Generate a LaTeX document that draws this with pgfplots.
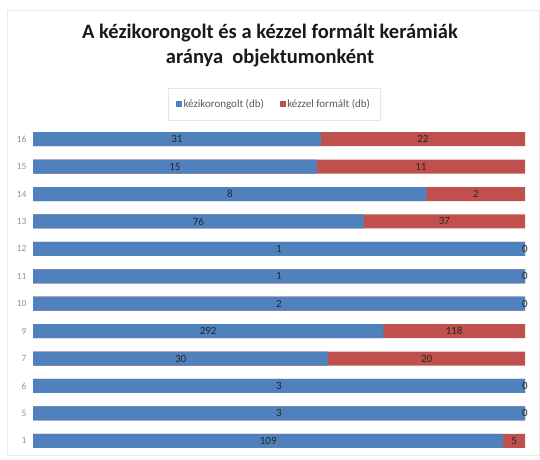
\documentclass[border=0pt]{standalone}
\usepackage{pgfplots}
\usepackage{pgfplotstable}
\pgfplotsset{compat=1.18}
\usepackage{fontspec}
\setmainfont{Carlito}
\definecolor{cblue}{HTML}{4F81BD}
\definecolor{cred}{HTML}{C0504D}
\definecolor{tickgray}{HTML}{8A94A6}
\definecolor{leggray}{HTML}{595959}
\pgfplotstableread{
pos obj blue red
0 1 109 5
1 5 3 0
2 6 3 0
3 7 30 20
4 9 292 118
5 10 2 0
6 11 1 0
7 12 1 0
8 13 76 37
9 14 8 2
10 15 15 11
11 16 31 22
}\data
\begin{document}
\begin{tikzpicture}
\useasboundingbox (0pt,0pt) rectangle (540pt,459pt);
\draw[draw=black!8] (7pt,4pt) rectangle (539pt,449pt);
\node[font=\fontsize{20.5}{25}\selectfont\bfseries, align=center, text=black!90] at (270pt,413.5pt) {A kézikorongolt és a kézzel formált kerámiák\\aránya\ \ objektumonként};
\begin{axis}[
  at={(33pt,4.5pt)}, anchor=south west,
  scale only axis, width=492pt, height=329pt,
  xmin=0, xmax=100, ymin=-0.5, ymax=11.5,
  axis line style={draw=none},
  ytick={0,...,11}, yticklabels={1,5,6,7,9,10,11,12,13,14,15,16},
  major tick length=0pt,
  yticklabel style={font=\fontsize{9.5}{10}\selectfont, text=tickgray, xshift=-3pt},
  xtick=\empty,
  clip=false,
  /pgf/number format/assume math mode=true,
  legend style={at={(0.49,1)}, yshift=5.5pt, anchor=south, draw=black!10, font=\fontsize{11}{12}\selectfont, text=leggray, legend columns=2, /tikz/every even column/.append style={column sep=14pt}, inner xsep=8pt, inner ysep=9pt},
  nodes near coords style={font=\fontsize{11}{12}\selectfont, text=black!85},
]
\addplot[xbar, bar width=14pt, bar shift=0pt, fill=cred, draw=none, forget plot] table[x expr=100, y=pos] {\data};
\addplot[xbar, bar width=14pt, bar shift=0pt, fill=cblue, draw=none, forget plot] table[x expr={\thisrow{blue}/(\thisrow{blue}+\thisrow{red})*100}, y=pos] {\data};
\addlegendimage{legend image code/.code={\fill[cblue] (0.5pt,-2.5pt) rectangle (5.5pt,2.5pt);}}
\addlegendentry{kézikorongolt (db)}
\addlegendimage{legend image code/.code={\fill[cred] (0.5pt,-2.5pt) rectangle (5.5pt,2.5pt);}}
\addlegendentry{kézzel formált (db)}
\addplot[draw=none, mark=none, nodes near coords, point meta=explicit, nodes near coords align=center, forget plot] table[x expr={\thisrow{blue}/(\thisrow{blue}+\thisrow{red})*50}, y=pos, meta=blue] {\data};
\addplot[draw=none, mark=none, nodes near coords, point meta=explicit, nodes near coords align=center, forget plot] table[x expr={50+\thisrow{blue}/(\thisrow{blue}+\thisrow{red})*50}, y=pos, meta=red] {\data};
\end{axis}
\end{tikzpicture}
\end{document}
